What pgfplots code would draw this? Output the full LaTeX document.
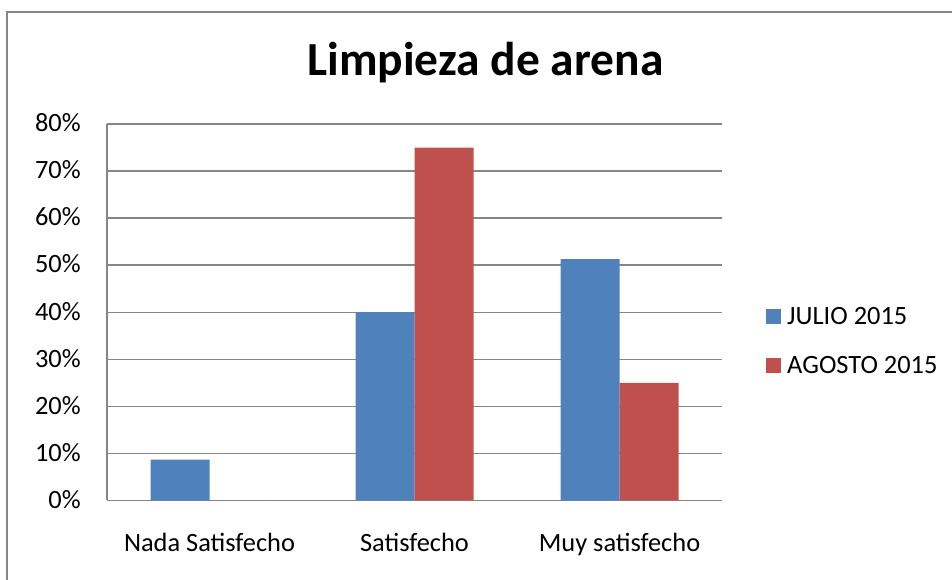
\documentclass[border=0pt]{standalone}
\usepackage{fontspec}
\setmainfont{Carlito}
\usepackage{pgfplots}
\pgfplotsset{compat=1.18}
\definecolor{julio}{HTML}{4F81BD}
\definecolor{agosto}{HTML}{C0504D}
\definecolor{rejilla}{HTML}{868686}
\begin{document}
\begin{tikzpicture}
\useasboundingbox (0,0) rectangle (714pt,435pt);
% marco del grafico (solo se ven los lados izquierdo y superior)
\draw[rejilla, line width=1.5pt] (5.25pt,-20pt) -- (5.25pt,426pt) -- (760pt,426pt);
\begin{axis}[
    at={(80.25pt,59.625pt)}, anchor=south west,
    scale only axis,
    width=461.25pt, height=282.375pt,
    ybar=0pt,
    bar width=44.25pt,
    xmin=-0.5, xmax=2.5,
    ymin=0, ymax=80,
    xtick={0,1,2},
    xticklabels={Nada Satisfecho, Satisfecho, Muy satisfecho},
    ytick={0,10,...,80},
    yticklabel={\pgfmathprintnumber{\tick}\%},
    /pgf/number format/assume math mode=true,
    axis x line*=bottom, axis y line*=left,
    axis line style={rejilla, line width=1.1pt},
    major tick length=0pt,
    ymajorgrids,
    grid style={rejilla, line width=1.1pt},
    tick label style={font=\fontsize{19.8}{24}\selectfont, inner sep=0pt},
    yticklabel style={anchor=base east, xshift=-19.5pt, yshift=-5.85pt},
    xticklabel style={anchor=base, yshift=-37.9pt},
    title={Limpieza de arena},
    title style={at={(0.6154,1)}, anchor=base, yshift=30pt, inner sep=0pt,
        font=\bfseries\fontsize{35.6}{42}\selectfont},
    legend style={at={(1.0715,0.4236)}, anchor=west, draw=none, fill=none,
        inner sep=0pt, row sep=22.5pt,
        font=\fontsize{19.8}{24}\selectfont,
        nodes={inner sep=0pt},
        /tikz/column 1/.style={column sep=4.5pt}},
    legend cell align=left,
    legend image code/.code={\fill[#1] (0pt,-5.625pt) rectangle (11.25pt,5.625pt);},
]
\addplot[fill=julio, draw=none] coordinates {(0,8.7) (1,40) (2,51.3)};
\addlegendentry{JULIO 2015}
\addplot[fill=agosto, draw=none] coordinates {(0,0) (1,75) (2,25)};
\addlegendentry{AGOSTO 2015}
\end{axis}
\end{tikzpicture}
\end{document}
